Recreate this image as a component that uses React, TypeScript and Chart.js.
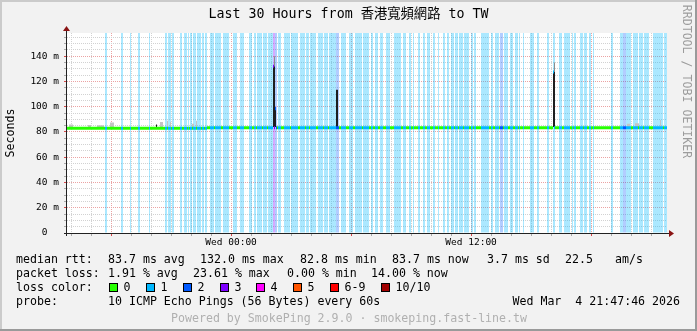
import React, { useEffect, useRef } from 'react';
import { Chart, registerables } from 'chart.js';

Chart.register(...registerables);

// ---------------- data ----------------
const TITLE = 'Last 30 Hours from 香港寬頻網路 to TW';
const Y_TITLE = 'Seconds';
const WATERMARK = 'RRDTOOL / TOBI OETIKER';
const FOOTER = 'Powered by SmokePing 2.9.0 · smokeping.fast-line.tw';

// time axis: minutes after Tue 00:00
const START_MIN = 15 * 60 + 47 + 46 / 60; // Tue 15:47:46
const SPAN_MIN = 30 * 60;
const STEP_MIN = 3; // one RRD step per 3 minutes
const N_STEPS = SPAN_MIN / STEP_MIN;
const Y_MAX_MS = 158.4;

const yMajorTicks = [0, 20, 40, 60, 80, 100, 120, 140];
const yMinorStepMs = 5;
const xLabelTicks: [number, string][] = [
  [24 * 60, 'Wed 00:00'],
  [36 * 60, 'Wed 12:00'],
];

// packet loss per step: [fromStep, toStep (excl), lossLevel]
const lossRuns: [number, number, number][] = [
  [38, 40, 1], [54, 56, 1], [63, 64, 1], [71, 73, 1], [82, 83, 1], [98, 100, 1], [101, 104, 1],
  [105, 107, 1], [113, 115, 1], [117, 120, 1], [121, 122, 1], [123, 125, 1], [126, 129, 1],
  [130, 134, 1], [135, 137, 1], [138, 140, 1], [143, 147, 1], [148, 154, 1], [156, 162, 1],
  [166, 170, 1], [173, 177, 1], [182, 185, 1], [187, 189, 1], [190, 195, 1], [196, 200, 1],
  [201, 206, 1], [206, 208, 3], [208, 210, 2], [211, 214, 1], [217, 223, 1], [224, 231, 1],
  [233, 238, 1], [239, 242, 1], [243, 249, 1], [251, 256, 1], [257, 261, 1], [262, 269, 1],
  [269, 272, 2], [274, 279, 1], [282, 286, 1], [288, 295, 1], [296, 302, 1], [304, 306, 1],
  [308, 311, 1], [313, 316, 1], [319, 323, 1], [327, 334, 1], [336, 339, 1], [342, 344, 1],
  [346, 347, 1], [351, 353, 1], [356, 358, 1], [360, 363, 1], [366, 368, 1], [371, 372, 1],
  [376, 378, 1], [380, 382, 1], [384, 387, 1], [388, 391, 1], [392, 396, 1], [397, 402, 1],
  [404, 406, 1], [407, 409, 1], [414, 422, 1], [424, 426, 1], [428, 432, 1], [433, 436, 2],
  [437, 441, 1], [443, 446, 1], [448, 451, 1], [452, 453, 1], [456, 457, 1], [463, 467, 1],
  [470, 472, 1], [480, 482, 1], [486, 488, 1], [492, 495, 1], [497, 503, 1], [505, 506, 1],
  [507, 509, 1], [513, 516, 1], [517, 520, 1], [522, 524, 1], [526, 527, 1], [544, 546, 1],
  [553, 556, 1], [556, 559, 2], [559, 564, 1], [566, 571, 1], [572, 576, 1], [577, 582, 1],
  [586, 596, 1], [597, 600, 1],
];

// median rtt (ms): [fromStep, toStep (excl), value]
const medianRuns: [number, number, number][] = [
  [0, 140, 83.0], [140, 206, 83.3], [206, 207, 132.0], [207, 208, 83.3], [208, 209, 98.5],
  [209, 486, 83.3], [486, 487, 127.5], [487, 600, 83.3],
];

// smoke (ping spread, ms): [fromStep, toStep (excl), low, high, shade]
const smokeRuns: [number, number, number, number, string][] = [
  [2, 6, 83.5, 86, 'light'], [21, 24, 83.5, 85.5, 'light'], [30, 37, 83.5, 85.3, 'light'],
  [43, 47, 83.5, 87.5, 'light'], [89, 90, 84, 86, 'dark'], [93, 96, 83.5, 88, 'light'],
  [100, 101, 83.5, 89, 'light'], [103, 104, 83.5, 88, 'light'], [125, 127, 83.5, 86.5, 'light'],
  [129, 130, 83.5, 89, 'light'], [206, 208, 84, 132, 'dark'], [207, 208, 132, 140, 'mid'],
  [208, 209, 84, 98.5, 'dark'], [269, 271, 84, 113.5, 'dark'], [486, 488, 84, 127.5, 'dark'],
  [487, 488, 127.5, 135, 'mid'], [560, 563, 83.5, 86.5, 'light'], [568, 572, 83.5, 87, 'light'],
  [593, 594, 83.5, 89.5, 'light'],
];

const lossLegend = ['0', '1', '2', '3', '4', '5', '6-9', '10/10'];
const rttStats = ['83.7 ms avg', '132.0 ms max', '82.8 ms min', '83.7 ms now', '3.7 ms sd', '22.5', 'am/s'];
const lossStats = ['1.91 % avg', '23.61 % max', '0.00 % min', '14.00 % now'];
const probeText = '10 ICMP Echo Pings (56 Bytes) every 60s';
const stampText = 'Wed Mar  4 21:47:46 2026';

// ---------------- styles / layout ----------------
const W = 697;
const H = 331;
const MONO = '"DejaVu Sans Mono", "Noto Sans CJK TC", monospace';
const lossColors = ['#26ff00', '#00b8ff', '#0059ff', '#7e00ff', '#ff00ff', '#ff5500', '#ff0000', '#a10000'];
const lossBgColors = [
  'rgba(0,0,0,0)', 'rgba(0,184,255,0.33)', 'rgba(0,89,255,0.3)', 'rgba(126,0,255,0.33)',
  'rgba(255,0,255,0.33)', 'rgba(255,85,0,0.33)', 'rgba(255,0,0,0.33)', 'rgba(161,0,0,0.33)',
];
const smokeColors: Record<string, string> = { light: '#c4c4c4', mid: '#8c8c8c', dark: '#1e1e1e' };
const MEDIAN_HALF_MS = 1.2;
const GRID_MINOR = '#d2d2d2';
const GRID_MAJOR = '#eba3a3';
const AXIS_COLOR = '#222222';
const ARROW_COLOR = '#8a1414';
const ROW_Y = [259.5, 273.5, 287.5, 301.5];
const rttX = [108, 200, 300, 392, 487, 565, 615];
const lossX = [108, 193, 287, 371];
const swatchX = [109, 146, 183, 220, 256, 293, 330, 381];

// ---------------- helpers ----------------
const xOf = (step: number) => START_MIN + STEP_MIN * (step + 0.5);
const steps = Array.from({ length: N_STEPS }, (_, i) => i);
const levelAt: number[] = steps.map(() => 0);
lossRuns.forEach(([a, b, l]) => { for (let i = a; i < b; i++) levelAt[i] = l; });
const medianAt: number[] = steps.map(() => 0);
medianRuns.forEach(([a, b, v]) => { for (let i = a; i < b; i++) medianAt[i] = v; });

const lossData = steps.filter((i) => levelAt[i] > 0).map((i) => ({ x: xOf(i), y: [0, Y_MAX_MS] }));
const lossDataColors = steps.filter((i) => levelAt[i] > 0).map((i) => lossBgColors[levelAt[i]]);
const medianData = steps.map((i) => ({ x: xOf(i), y: [medianAt[i] - MEDIAN_HALF_MS, medianAt[i] + MEDIAN_HALF_MS] }));
const medianColors = steps.map((i) => lossColors[levelAt[i]]);
const smokeData: { x: number; y: number[] }[] = [];
const smokeDataColors: string[] = [];
smokeRuns.forEach(([a, b, lo, hi, shade]) => {
  for (let i = a; i < b; i++) {
    smokeData.push({ x: xOf(i), y: [lo, hi] });
    smokeDataColors.push(smokeColors[shade]);
  }
});

const hourTicks: number[] = [];
for (let m = Math.ceil(START_MIN / 60) * 60; m <= START_MIN + SPAN_MIN; m += 60) hourTicks.push(m);
const yGridTicks: number[] = [];
for (let v = 0; v <= Y_MAX_MS; v += yMinorStepMs) yGridTicks.push(v);

const decor = {
  id: 'decor',
  beforeDraw(chart: any) {
    const { ctx, chartArea: a } = chart;
    ctx.save();
    ctx.fillStyle = '#f2f2f2';
    ctx.fillRect(0, 0, W, H);
    ctx.fillStyle = '#cbcbcb';
    ctx.fillRect(0, 0, W, 2);
    ctx.fillRect(0, 0, 2, H);
    ctx.fillStyle = '#9a9a9a';
    ctx.fillRect(0, H - 2, W, 2);
    ctx.fillRect(W - 2, 0, 2, H);
    ctx.fillStyle = '#ffffff';
    ctx.fillRect(a.left, a.top, a.right - a.left, a.bottom - a.top);
    ctx.restore();
  },
  afterDraw(chart: any) {
    const { ctx, chartArea: a } = chart;
    ctx.save();
    // axes
    ctx.strokeStyle = AXIS_COLOR;
    ctx.lineWidth = 1;
    ctx.beginPath();
    ctx.moveTo(a.left - 3, a.bottom + 0.5);
    ctx.lineTo(a.right + 3, a.bottom + 0.5);
    ctx.moveTo(a.left - 0.5, a.bottom + 3);
    ctx.lineTo(a.left - 0.5, a.top - 3);
    ctx.stroke();
    ctx.fillStyle = ARROW_COLOR;
    ctx.beginPath();
    ctx.moveTo(a.right + 7, a.bottom + 0.5);
    ctx.lineTo(a.right + 2, a.bottom - 3);
    ctx.lineTo(a.right + 2, a.bottom + 4);
    ctx.closePath();
    ctx.fill();
    ctx.beginPath();
    ctx.moveTo(a.left - 0.5, a.top - 7);
    ctx.lineTo(a.left - 4, a.top - 2);
    ctx.lineTo(a.left + 3, a.top - 2);
    ctx.closePath();
    ctx.fill();

    // title
    ctx.fillStyle = '#000';
    ctx.textBaseline = 'middle';
    ctx.textAlign = 'center';
    ctx.font = `13.3px ${MONO}`;
    ctx.fillText(TITLE, W / 2, 15);

    // y title
    ctx.font = `11.6px ${MONO}`;
    ctx.save();
    ctx.translate(10.5, 133);
    ctx.rotate(-Math.PI / 2);
    ctx.fillText(Y_TITLE, 0, 0);
    ctx.restore();

    // watermark
    ctx.save();
    ctx.fillStyle = '#9c9c9c';
    ctx.translate(686, 81.5);
    ctx.rotate(Math.PI / 2);
    ctx.fillText(WATERMARK, 0, 0);
    ctx.restore();

    // legend
    ctx.textAlign = 'left';
    ctx.fillText('median rtt:', 16, ROW_Y[0]);
    rttStats.forEach((s, i) => ctx.fillText(s, rttX[i], ROW_Y[0]));
    ctx.fillText('packet loss:', 16, ROW_Y[1]);
    lossStats.forEach((s, i) => ctx.fillText(s, lossX[i], ROW_Y[1]));
    ctx.fillText('loss color:', 16, ROW_Y[2]);
    lossLegend.forEach((s, i) => {
      const x = swatchX[i];
      const y = Math.round(ROW_Y[2] - 4.5);
      ctx.fillStyle = lossColors[i];
      ctx.fillRect(x, y, 9, 9);
      ctx.strokeStyle = '#000';
      ctx.strokeRect(x + 0.5, y + 0.5, 8, 8);
      ctx.fillStyle = '#000';
      ctx.fillText(s, x + 14.6, ROW_Y[2]);
    });
    ctx.fillText('probe:', 16, ROW_Y[3]);
    ctx.fillText(probeText, 108, ROW_Y[3]);
    ctx.textAlign = 'right';
    ctx.fillText(stampText, 680, ROW_Y[3]);
    ctx.textAlign = 'center';
    ctx.fillStyle = '#b0b0b0';
    ctx.fillText(FOOTER, 349, 318.5);
    ctx.restore();
  },
};

export default function App() {
  const ref = useRef<HTMLCanvasElement>(null);
  useEffect(() => {
    document.body.style.margin = '0';
    const canvas = ref.current!;
    const common = { barThickness: 1, grouped: false, inflateAmount: 0 };
    const chart = new Chart(canvas, {
      type: 'bar',
      data: {
        datasets: [
          { label: 'median', data: medianData as any, backgroundColor: medianColors, order: 0, ...common } as any,
          { label: 'smoke', data: smokeData as any, backgroundColor: smokeDataColors, order: 1, ...common } as any,
          { label: 'loss', data: lossData as any, backgroundColor: lossDataColors, order: 2, ...common } as any,
        ],
      },
      options: {
        responsive: false,
        maintainAspectRatio: false,
        devicePixelRatio: 1,
        animation: false,
        events: [],
        layout: { padding: { left: 0, top: 33, right: 30, bottom: 78 }, autoPadding: false } as any,
        plugins: { legend: { display: false }, tooltip: { enabled: false }, title: { display: false } },
        scales: {
          x: {
            type: 'linear',
            offset: false,
            min: START_MIN,
            max: START_MIN + SPAN_MIN,
            afterBuildTicks: (scale: any) => {
              scale.ticks = hourTicks.map((v) => ({ value: v }));
            },
            afterFit: (scale: any) => {
              scale.height = 20;
              scale.paddingLeft = 0;
              scale.paddingRight = 0;
            },
            border: { display: false, dash: [1, 1] },
            grid: {
              offset: false,
              color: (c: any) => (c.tick && c.tick.value % 360 === 0 ? GRID_MAJOR : GRID_MINOR),
              tickColor: (c: any) => (c.tick && c.tick.value % 360 === 0 ? '#d84a4a' : '#aaaaaa'),
              tickLength: 3,
              lineWidth: 1,
              z: 0,
            },
            ticks: {
              autoSkip: false,
              maxRotation: 0,
              minRotation: 0,
              padding: 1,
              color: '#000',
              font: { family: MONO, size: 9.5 },
              callback: (v: any) => {
                const hit = xLabelTicks.find((t) => t[0] === v);
                return hit ? hit[1] : '';
              },
            },
          },
          y: {
            type: 'linear',
            min: 0,
            max: Y_MAX_MS,
            afterBuildTicks: (scale: any) => {
              scale.ticks = yGridTicks.map((v) => ({ value: v }));
            },
            afterFit: (scale: any) => {
              scale.width = 67;
              scale.paddingTop = 0;
              scale.paddingBottom = 0;
            },
            border: { display: false, dash: [1, 1] },
            grid: {
              color: (c: any) => (c.tick && c.tick.value % 20 === 0 ? GRID_MAJOR : GRID_MINOR),
              tickColor: (c: any) => (c.tick && c.tick.value % 20 === 0 ? '#d84a4a' : '#aaaaaa'),
              tickLength: 3,
              lineWidth: 1,
              z: 0,
            },
            ticks: {
              autoSkip: false,
              padding: 5,
              color: '#000',
              font: { family: MONO, size: 9.5 },
              callback: (v: any) => (yMajorTicks.includes(v) ? (v === 0 ? '0  ' : `${v} m`) : ''),
            },
          },
        },
      } as any,
      plugins: [decor],
    });
    return () => chart.destroy();
  }, []);
  return (
    <div style={{ width: W, height: H }}>
      <canvas ref={ref} width={W} height={H} style={{ display: 'block', width: W, height: H }} />
    </div>
  );
}
